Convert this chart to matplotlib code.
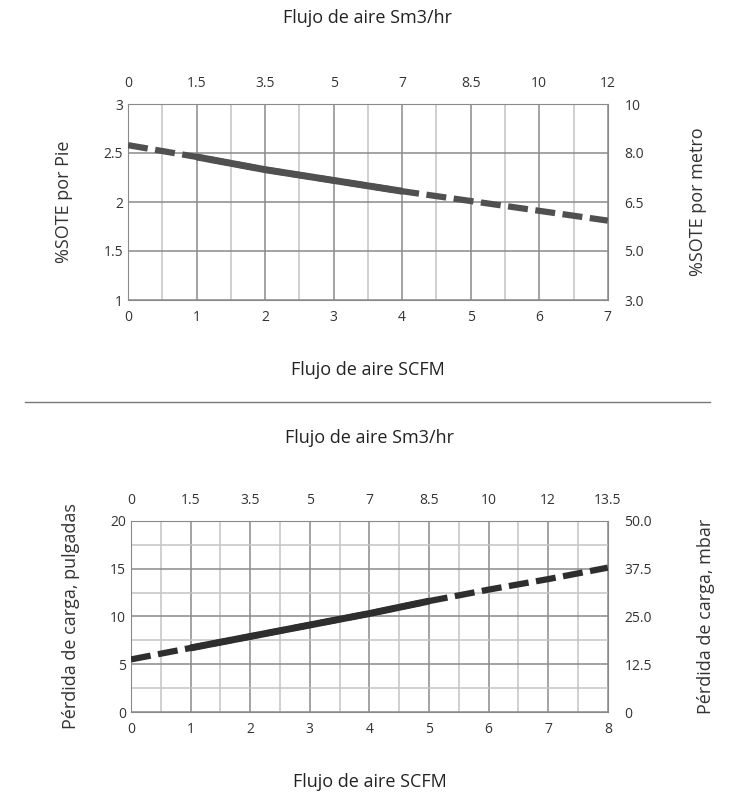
import numpy as np
import matplotlib.pyplot as plt
from matplotlib.lines import Line2D

plt.rcParams['font.family'] = 'Open Sans'

# top chart: %SOTE vs airflow
top_x = [0, 1, 2, 3, 4, 5, 6, 7]
top_y = [2.58, 2.46, 2.33, 2.22, 2.11, 2.01, 1.91, 1.81]
top_sm3 = ['0', '1.5', '3.5', '5', '7', '8.5', '10', '12']
top_yticks = [1, 1.5, 2, 2.5, 3]
top_yticklabels = ['1', '1.5', '2', '2.5', '3']
top_right = ['3.0', '5.0', '6.5', '8.0', '10']

# bottom chart: head loss vs airflow
bot_x = [0, 1, 2, 3, 4, 5, 6, 7, 8]
bot_y = [5.5, 6.7, 7.9, 9.1, 10.3, 11.6, 12.8, 13.9, 15.1]
bot_sm3 = ['0', '1.5', '3.5', '5', '7', '8.5', '10', '12', '13.5']
bot_yticks = [0, 5, 10, 15, 20]
bot_right = ['0', '12.5', '25.0', '37.5', '50.0']

fig = plt.figure(figsize=(7.37, 8), dpi=100)

def setup(ax, xmax, ymin, ymax, yminor, sm3, left_ticks, left_lbls, right_lbls, ylab, ylab_r):
    ax.set_xlim(0, xmax)
    ax.set_ylim(ymin, ymax)
    ax.set_xticks(np.arange(0, xmax + 1))
    ax.set_xticks(np.arange(0.5, xmax, 1), minor=True)
    ax.set_yticks(left_ticks)
    ax.set_yticklabels(left_lbls)
    if yminor is not None:
        ax.set_yticks(yminor, minor=True)
    ax.grid(which='major', color='#8a8a8a', lw=1.1, zorder=0)
    ax.grid(which='minor', color='#c4c4c4', lw=1.1, zorder=0)
    for s in ax.spines.values():
        s.set_color('#8a8a8a')
    ax.tick_params(which='both', length=0, labelsize=10, colors='#333333')
    ax.tick_params(axis='x', pad=7)
    ax.set_ylabel(ylab, fontsize=13, labelpad=22, color='#333333')
    top = ax.secondary_xaxis('top')
    top.set_xticks(np.arange(0, xmax + 1))
    top.set_xticklabels(sm3)
    top.tick_params(length=0, labelsize=10, pad=9, colors='#333333')
    top.spines['top'].set_visible(False)
    r = ax.twinx()
    r.set_ylim(ymin, ymax)
    r.set_yticks(left_ticks)
    r.set_yticklabels(right_lbls)
    r.tick_params(length=0, labelsize=10, pad=12, colors='#333333')
    for s in r.spines.values():
        s.set_visible(False)
    r.set_ylabel(ylab_r, fontsize=13, labelpad=32, color='#333333')

def draw(ax, x, y, s0, s1, color):
    x = np.array(x, float); y = np.array(y, float)
    ax.plot(x, y, color=color, lw=4.5, ls=(0, (3.2, 1.2)), zorder=3, solid_capstyle='butt')
    m = (x >= s0) & (x <= s1)
    ax.plot(x[m], y[m], color=color, lw=5, zorder=4, solid_capstyle='butt')

ax1 = fig.add_axes([0.1737, 0.625, 0.651, 0.245])
setup(ax1, 7, 1, 3, None, top_sm3, top_yticks, top_yticklabels, top_right,
      '%SOTE por Pie', '%SOTE por metro')
draw(ax1, top_x, top_y, 1, 4, '#505050')
ax1.set_title('Flujo de aire Sm3/hr', fontsize=13, pad=58, color='#222222')
ax1.set_xlabel('Flujo de aire SCFM', fontsize=13, labelpad=26, color='#222222')

ax2 = fig.add_axes([0.1777, 0.11, 0.647, 0.239])
setup(ax2, 8, 0, 20, [2.5, 7.5, 12.5, 17.5], bot_sm3, bot_yticks,
      [str(v) for v in bot_yticks], bot_right,
      'Pérdida de carga, pulgadas', 'Pérdida de carga, mbar')
draw(ax2, bot_x, bot_y, 1, 5, '#2e2e2e')
ax2.set_title('Flujo de aire Sm3/hr', fontsize=13, pad=56, color='#222222')
ax2.set_xlabel('Flujo de aire SCFM', fontsize=13, labelpad=26, color='#222222')

fig.add_artist(Line2D([25 / 737, 710 / 737], [1 - 402 / 800] * 2, color='#777777', lw=1))

fig.savefig('out.png', dpi=100)
